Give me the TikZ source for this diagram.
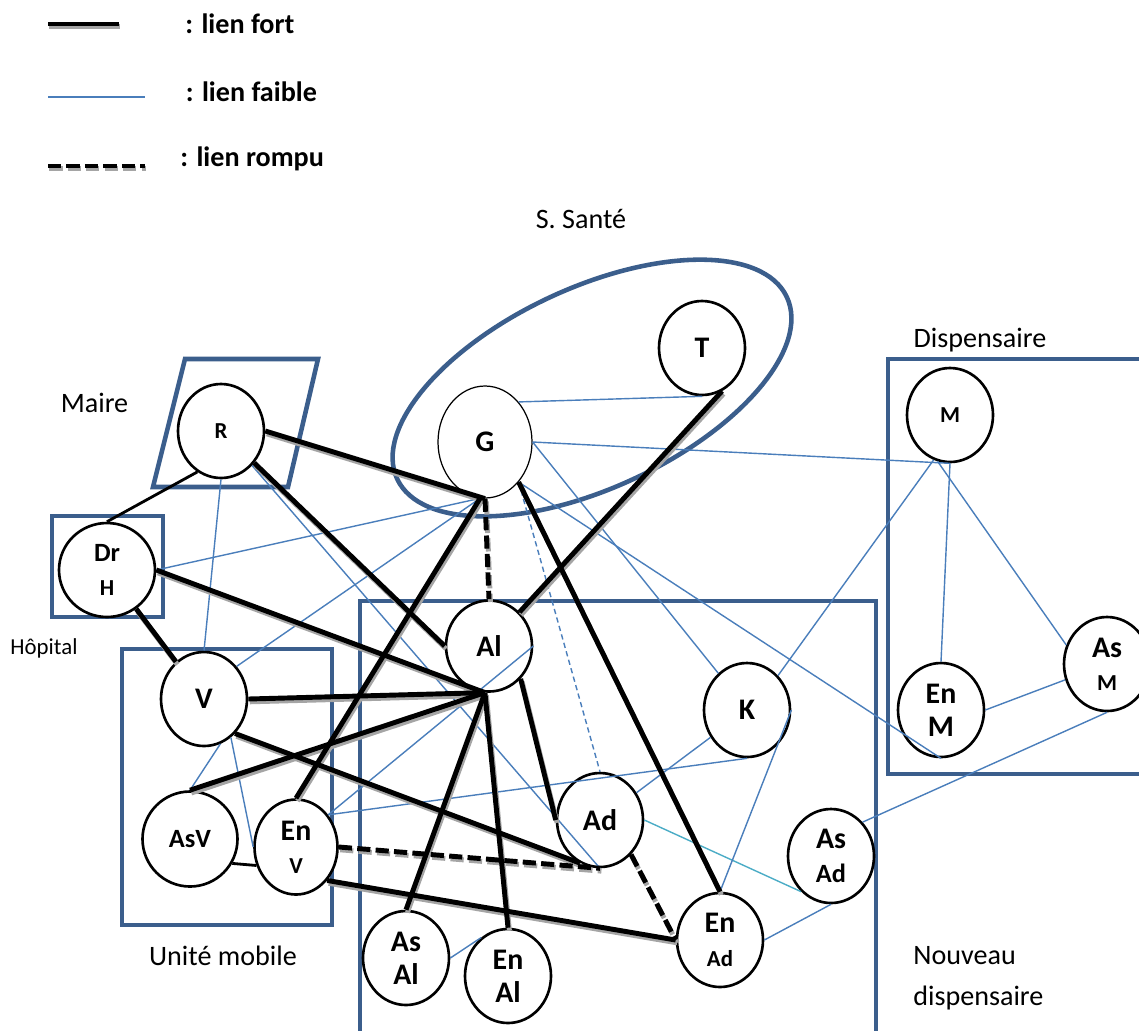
\documentclass[tikz,border=0pt]{standalone}
\usepackage{fontspec}
\setmainfont{Carlito}
\usetikzlibrary{shapes.geometric}

\definecolor{bleuboite}{RGB}{59,94,140}
\definecolor{bleulien}{RGB}{74,126,187}
\definecolor{bleuclair}{RGB}{75,172,198}
\definecolor{ombre}{RGB}{165,165,165}

\newcommand{\noeudgrand}{\fontsize{17}{19}\selectfont\bfseries}
\newcommand{\noeudmoyen}{\fontsize{15}{17}\selectfont\bfseries}
\newcommand{\noeudpetit}{\fontsize{13}{15}\selectfont\bfseries}
\newcommand{\etiquette}{\fontsize{16}{19}\selectfont}

% liens forts et rompus (origine/extremite)
\newcommand{\liensforts}{fortA/fortB, R.east/G.south, R/Al.west, DrH/V, DrH.east/Al.265,
	V.east/Al.265, AsV.north/Al.265, EnV.north/G.265, V.312/Ad.245, EnV.313/EnAd.west,
	G.310/EnAd.north, T.295/Al.48, Al.314/Ad.west, Al.265/AsAl.north, Al.265/EnAl.north}
\newcommand{\liensrompus}{rompuA/rompuB, G.south/Al.north, EnV.east/Ad.south, Ad.312/EnAd.west}

\tikzset{
	pers/.style={ellipse, draw, line width=1.5pt, fill=white, minimum width=1.72cm, minimum height=1.88cm, inner sep=0pt, align=center, font=\noeudgrand},
	boite/.style={draw=bleuboite, line width=2.6pt},
	fort/.style={line width=2.8pt},
	rompu/.style={fort, dash pattern=on 7.5pt off 3pt},
	faible/.style={draw=bleulien, line width=0.8pt},
	moyen/.style={line width=1.6pt},
	etiq/.style={font=\etiquette, inner sep=0pt},
}

\begin{document}
\begin{tikzpicture}
		\useasboundingbox (0,0) rectangle (22.78,-20.60);

		% legende
		\coordinate (fortA) at (0.96,-0.48);
		\coordinate (fortB) at (2.38,-0.48);
		\coordinate (faibleA) at (0.96,-1.94);
		\coordinate (faibleB) at (2.90,-1.94);
		\coordinate (rompuA) at (0.96,-3.32);
		\coordinate (rompuB) at (2.90,-3.32);
		\draw[faible] (faibleA) -- (faibleB);
		\node[etiq, font=\etiquette\bfseries, anchor=base west] (legFort) at (3.70,-0.66) {: lien fort};
		\node[etiq, font=\etiquette\bfseries, anchor=base west] (legFaible) at (3.71,-2.03) {: lien faible};
		\node[etiq, font=\etiquette\bfseries, anchor=base west] (legRompu) at (3.60,-3.33) {: lien rompu};

		% groupes
		\draw[boite] (11.84,-7.76) ellipse [x radius=4.30, y radius=2.00, rotate=25];
		\draw[boite] (3.70,-7.18) -- (6.36,-7.18) -- (5.76,-9.74) -- (3.06,-9.74) -- cycle;
		\draw[boite] (1.04,-10.32) rectangle (3.26,-12.34);
		\draw[boite] (2.44,-12.98) rectangle (6.64,-18.50);
		\draw[boite] (7.20,-21.20) -- (7.20,-12.02) -- (17.52,-12.02) -- (17.52,-21.20);
		\draw[boite] (23.20,-7.18) -- (17.76,-7.18) -- (17.76,-15.48) -- (23.20,-15.48);

		\node[etiq, anchor=base] (lblSante) at (11.62,-4.56) {S. Santé};
		\node[etiq, anchor=base] (lblMaire) at (1.89,-8.24) {Maire};
		\node[etiq, anchor=base] (lblDisp) at (19.60,-6.94) {Dispensaire};
		\node[etiq, font=\fontsize{13}{15}\selectfont, anchor=base] (lblHopital) at (0.88,-13.08) {Hôpital};
		\node[etiq, anchor=base] (lblMobile) at (4.46,-19.30) {Unité mobile};
		\node[etiq, anchor=base west] (lblNouveau) at (18.26,-19.28) {Nouveau};
		\node[etiq, anchor=base west] (lblNouveau2) at (18.26,-20.10) {dispensaire};

		% acteurs
		\node[pers] (T) at (14.04,-6.96) {T};
		\node[pers, line width=0.7pt, minimum width=1.88cm, minimum height=2.24cm] (G) at (9.70,-8.84) {G};
		\node[pers] (R) at (4.42,-8.62) {\noeudpetit R};
		\node[pers, minimum width=1.92cm] (DrH) at (2.14,-11.40) {\noeudmoyen Dr\\\noeudpetit H};
		\node[pers] (V) at (4.08,-13.98) {V};
		\node[pers, minimum width=1.90cm, minimum height=1.90cm] (AsV) at (3.80,-16.78) {\noeudmoyen AsV};
		\node[pers, minimum width=1.66cm, minimum height=1.90cm] (EnV) at (5.92,-16.94) {En\\\noeudpetit V};
		\node[pers, minimum height=1.82cm] (Al) at (9.78,-12.92) {Al};
		\node[pers] (Ad) at (12.00,-16.40) {Ad};
		\node[pers] (AsAl) at (8.12,-19.16) {As\\Al};
		\node[pers] (EnAl) at (10.16,-19.52) {En\\Al};
		\node[pers] (EnAd) at (14.40,-18.80) {En\\\noeudpetit Ad};
		\node[pers] (K) at (14.94,-14.20) {K};
		\node[pers] (AsAd) at (16.62,-17.12) {As\\\noeudmoyen Ad};
		\node[pers] (EnM) at (18.82,-14.20) {En\\M};
		\node[pers] (AsM) at (22.14,-13.28) {As\\\noeudpetit M};
		\node[pers] (M) at (19.00,-8.30) {\noeudpetit M};

		% liens faibles
		\draw[faible] (G.50) -- (T.south);
		\draw[faible] (G.east) -- (M.south);
		\draw[faible] (G.east) -- (K.128);
		\draw[faible] (G.310) -- (EnM.south);
		\draw[faible, dash pattern=on 3pt off 2pt] (G.310) -- (Ad.north);
		\draw[faible] (G.265) -- (DrH.east);
		\draw[faible] (G.265) -- (V.45);
		\draw[faible] (R.south) -- (V.north);
		\draw[faible] (R.312) -- (Ad.south);
		\draw[faible] (Al.east) -- (EnV.45);
		\draw[faible] (V.290) -- (AsV.north);
		\draw[faible] (V.305) -- (EnV.west);
		\draw[faible] (AsAl.east) -- (EnAl.125);
		\draw[faible] (M.250) -- (K.48);
		\draw[faible] (M.south) -- (EnM.north);
		\draw[faible] (M.255) -- (AsM.155);
		\draw[faible] (EnM.east) -- (AsM);
		\draw[faible] (AsM.south) -- (AsAd.47);
		\draw[faible] (AsAd.south) -- (EnAd.east);
		\draw[faible, draw=bleuclair] (Ad.east) -- (AsAd.230);
		\draw[faible] (K.east) -- (EnAd.north);
		\draw[faible] (K) -- (Ad);
		\draw[faible] (K.south) -- (EnV.45);

		\draw[moyen] (R.240) -- (DrH.north);
		\draw[moyen] (AsV.330) -- (EnV.205);

		% ombres
		\begin{scope}[transform canvas={shift={(0.8pt,-1.6pt)}}, draw=ombre]
			\foreach \a/\b in \liensforts {
				\draw[fort, ombre] (\a) -- (\b);
			}
			\foreach \a/\b in \liensrompus {
				\draw[rompu, ombre] (\a) -- (\b);
			}
		\end{scope}

		% liens forts et rompus
		\foreach \a/\b in \liensforts {
			\draw[fort] (\a) -- (\b);
		}
		\foreach \a/\b in \liensrompus {
			\draw[rompu] (\a) -- (\b);
		}
\end{tikzpicture}
\end{document}
